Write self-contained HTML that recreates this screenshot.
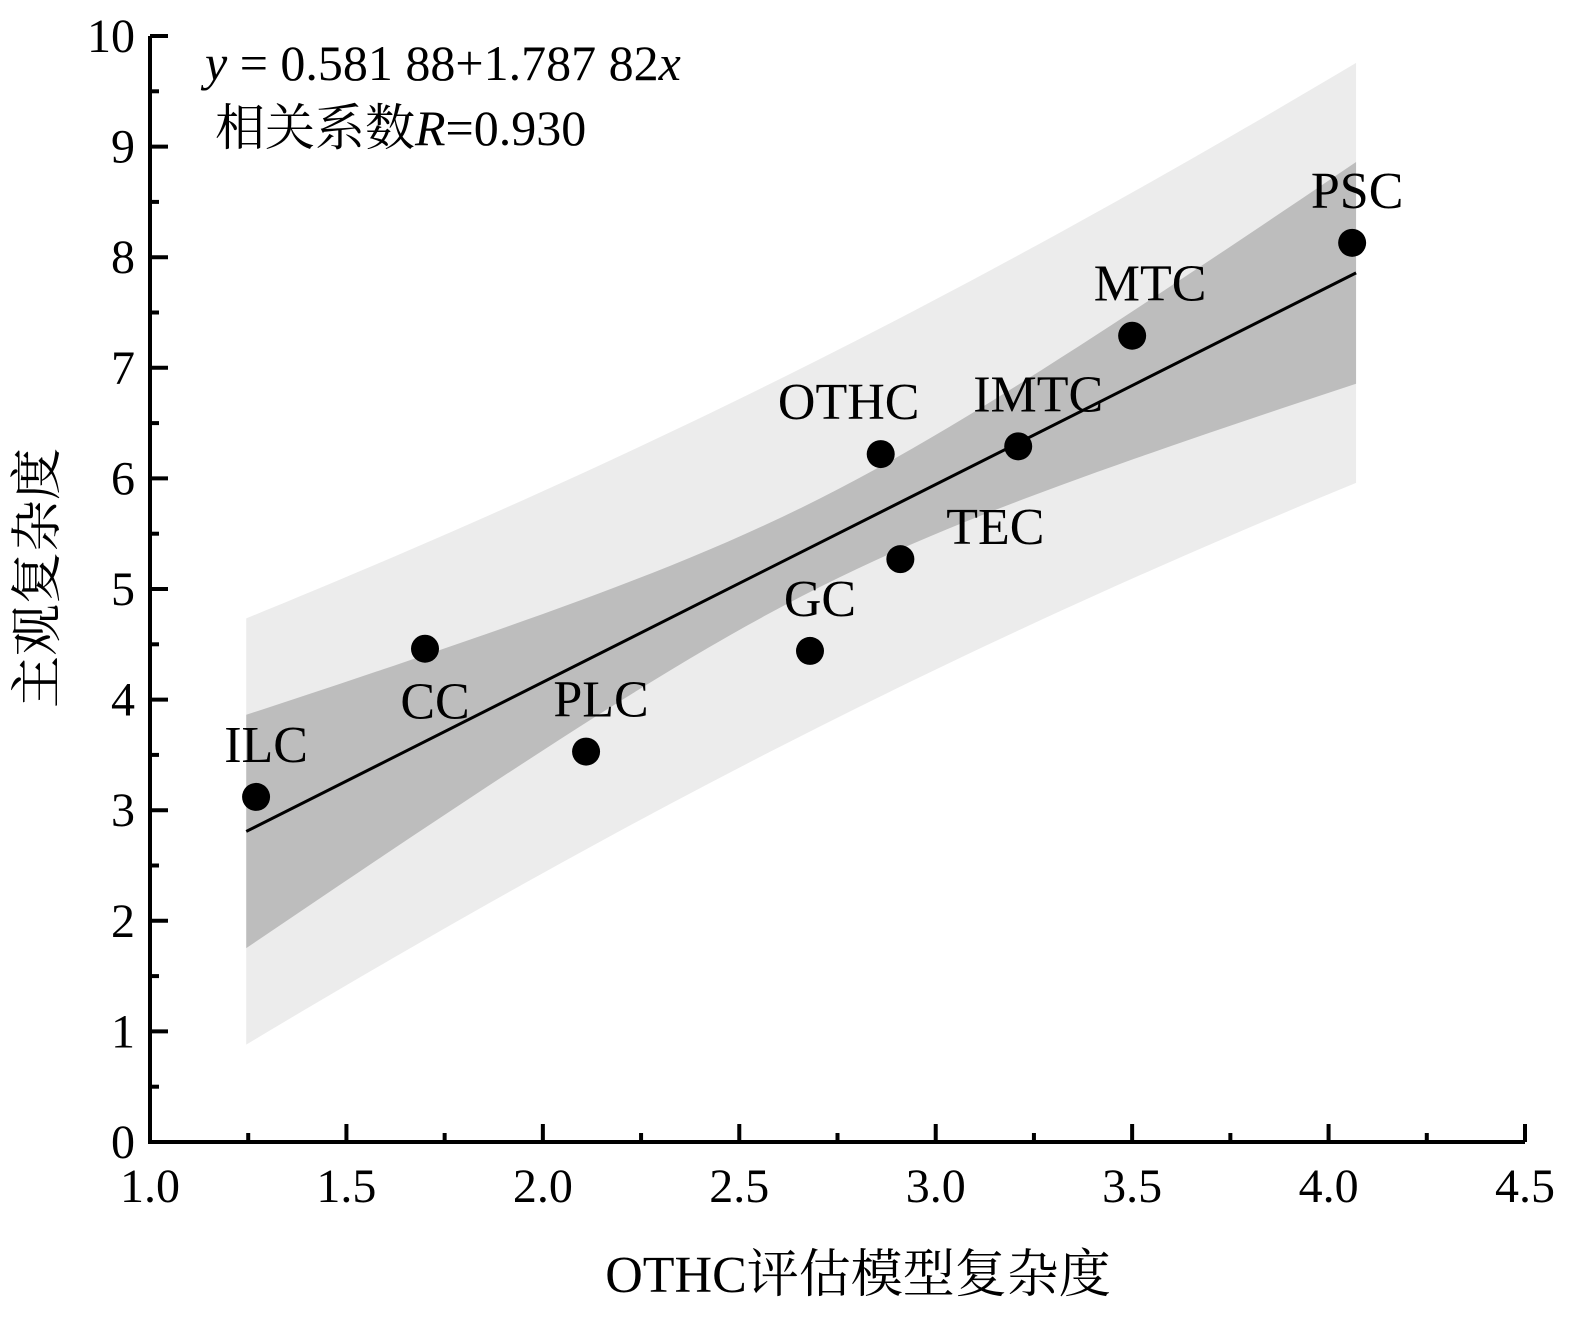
<!DOCTYPE html>
<html><head><meta charset="utf-8"><style>
body{margin:0;background:#fff}
svg{display:block;font-family:"Liberation Serif","Noto Serif CJK SC","Noto Sans CJK SC",serif}
</style></head><body>
<svg id="c" width="1577" height="1320" viewBox="0 0 1577 1320"></svg>
<script>
const labels=["ILC","CC","PLC","GC","OTHC","TEC","IMTC","MTC","PSC"];
const xVals=[1.27,1.70,2.11,2.68,2.86,2.91,3.21,3.50,4.06];
const yVals=[3.12,4.46,3.53,4.44,6.22,5.27,6.29,7.29,8.13];
const labelDx=[10,10,15,10,-32,95,20,18,5];
const labelDy=[-35,70,-35,-35,-35,-15,-35,-35,-35];
const xTicks=["1.0","1.5","2.0","2.5","3.0","3.5","4.0","4.5"];
const yTicks=["0","1","2","3","4","5","6","7","8","9","10"];
const intercept=0.58188, slope=1.78782;
const confA=0.16, confB=0.45, predS2=2.6;
const xFitMin=1.245, xFitMax=4.07, xMean=2.7;

const X0=150,X1=1525,Y0=1142,Y1=36;
const sx=v=>X0+(v-1)/(3.5)*(X1-X0);
const sy=v=>Y0-v/10*(Y0-Y1);
const svg=document.getElementById('c');
const NS="http://www.w3.org/2000/svg";
function mk(t,a,p){const e=document.createElementNS(NS,t);for(const k in a)e.setAttribute(k,a[k]);(p||svg).appendChild(e);return e;}
function band(fn,name,fill){
  let up=[],lo=[];
  for(let i=0;i<=60;i++){const x=xFitMin+(xFitMax-xFitMin)*i/60;const yh=intercept+slope*x;const h=fn(x);
    up.push(sx(x)+","+sy(yh+h));lo.unshift(sx(x)+","+sy(yh-h));}
  const p=mk('polygon',{points:up.concat(lo).join(' '),fill:fill});
  
  
}
const conf=x=>Math.sqrt(confA+confB*(x-xMean)**2);
band(x=>Math.sqrt(predS2+conf(x)**2),'prediction-band','#ececec');
band(conf,'confidence-band','#bdbdbd');
const fl=mk('line',{x1:sx(xFitMin),y1:sy(intercept+slope*xFitMin),x2:sx(xFitMax),y2:sy(intercept+slope*xFitMax),stroke:'#000','stroke-width':3});


// axes
const ax=mk('path',{d:`M${X0},${Y1} L${X0},${Y0} L${X1},${Y0}`,fill:'none',stroke:'#000','stroke-width':4});


xTicks.forEach((t,i)=>{const v=1+0.5*i,x=sx(v);
  mk('line',{x1:x,y1:Y0,x2:x,y2:Y0-18,stroke:'#000','stroke-width':4});
  if(i<xTicks.length-1){const xm=sx(v+0.25);mk('line',{x1:xm,y1:Y0,x2:xm,y2:Y0-9,stroke:'#000','stroke-width':4});}
  const tx=mk('text',{x:x,y:Y0+60,'font-size':48,'text-anchor':'middle'});tx.textContent=t;
  
  
});
yTicks.forEach((t,i)=>{const y=sy(i);
  mk('line',{x1:X0,y1:y,x2:X0+18,y2:y,stroke:'#000','stroke-width':4});
  if(i<yTicks.length-1){const ym=sy(i+0.5);mk('line',{x1:X0,y1:ym,x2:X0+9,y2:ym,stroke:'#000','stroke-width':4});}
  const tx=mk('text',{x:X0-15,y:y+16,'font-size':48,'text-anchor':'end'});tx.textContent=t;
  
  
});
xVals.forEach((v,i)=>{
  const c=mk('circle',{cx:sx(v),cy:sy(yVals[i]),r:14,fill:'#000'});
  
  
  const t=mk('text',{x:sx(v)+labelDx[i],y:sy(yVals[i])+labelDy[i],'font-size':52,'text-anchor':'middle'});
  t.textContent=labels[i];
  
  
});
</script>
<svg width="1577" height="1320" style="position:absolute;left:0;top:0;font-family:'Liberation Serif','Noto Serif CJK SC',serif">
<text x="205" y="80" font-size="50"><tspan font-style="italic">y</tspan> = 0.581 88+1.787 82<tspan font-style="italic">x</tspan></text>
<text x="215" y="145" font-size="50">相关系数<tspan font-style="italic">R</tspan>=0.930</text>
<text x="858" y="1292" font-size="52" text-anchor="middle">OTHC评估模型复杂度</text>
<text transform="translate(55,578) rotate(-90)" font-size="52" text-anchor="middle">主观复杂度</text>
</svg>
</body></html>
